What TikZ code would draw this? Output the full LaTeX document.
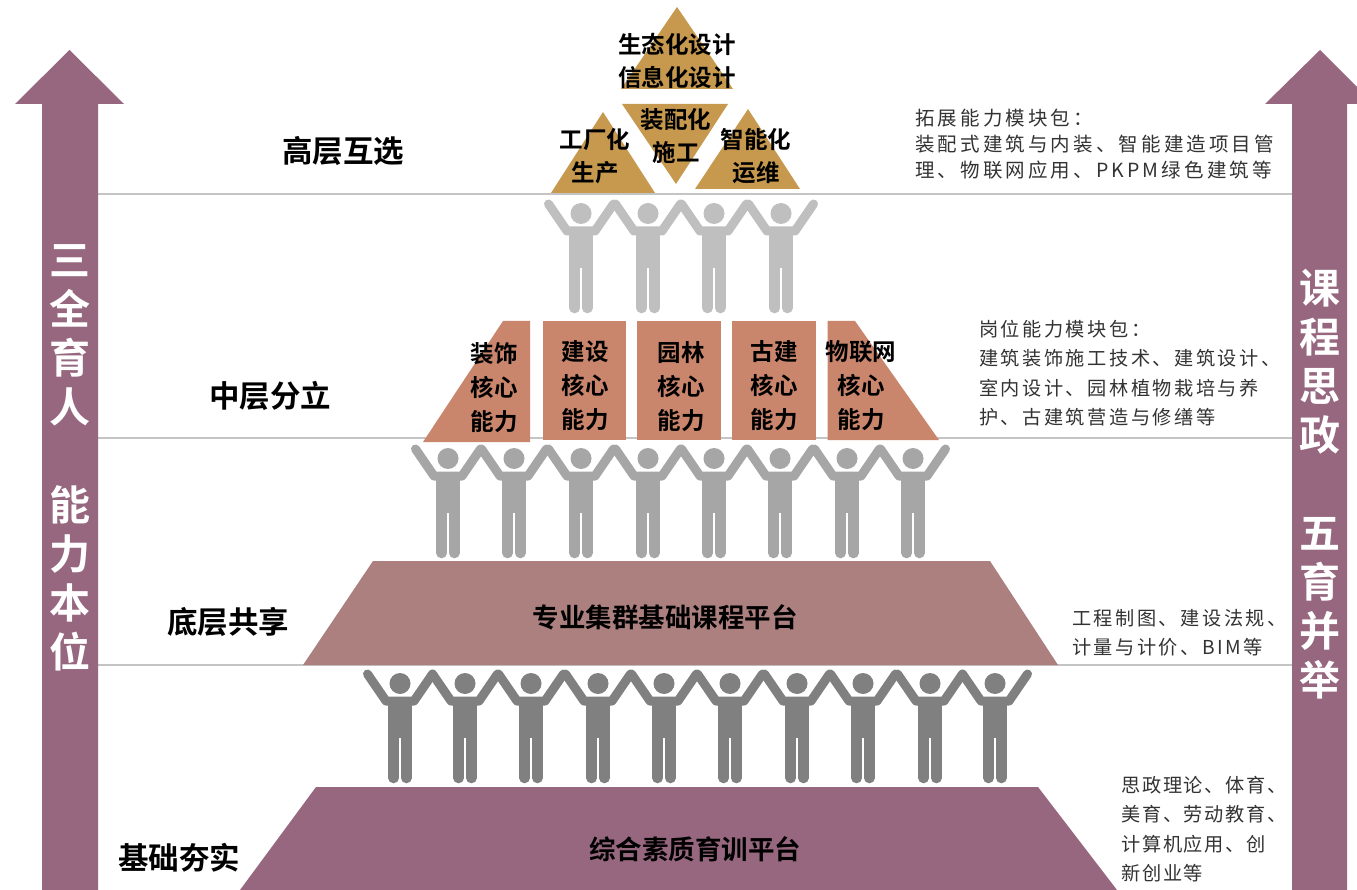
\documentclass[tikz,border=0pt]{standalone}
\usepackage{fontspec}
\setmainfont{Noto Sans CJK SC}
\newfontfamily\cjkb{Noto Sans CJK SC Bold}
\begin{document}
\begin{tikzpicture}[x=1pt,y=-1pt,
  arrowfill/.style={fill=plumc,draw=none},
  level/.style={draw=linec,line width=2pt},
  tri/.style={fill=goldc,draw=none},
  core/.style={fill=corec,draw=none},
  tierlabel/.style={font=\cjkb\fontsize{30.5}{34}\selectfont,text=black,inner sep=0pt},
  inlabel/.style={font=\cjkb\fontsize{23.5}{34}\selectfont,text=black,inner sep=0pt,align=center},
  platlabel/.style={font=\cjkb\fontsize{26.5}{30}\selectfont,text=black,inner sep=0pt,align=center},
  sidelabel/.style={text=textg,inner sep=0pt,align=left,anchor=north west},
  vlabel/.style={font=\cjkb\fontsize{41}{49}\selectfont,text=white,inner sep=0pt,align=center},
]
\definecolor{plumc}{HTML}{96677F}
\definecolor{linec}{HTML}{C4C4C4}
\definecolor{goldc}{HTML}{C6994F}
\definecolor{corec}{HTML}{C9866C}
\definecolor{platb}{HTML}{AD8080}
\definecolor{textg}{HTML}{333333}
\newcommand{\person}[3]{%
  \begin{scope}[shift={(#1,#2)},#3]
    \fill (0,13.5) circle (10.5);
    \draw[line width=9pt,line cap=round,line join=round] (-32.5,4) -- (-14,31) -- (14,31) -- (32.5,4);
    \fill (-11.6,28) rectangle (11.6,68);
    \draw[line width=10.6pt,line cap=round] (-6.3,65) -- (-6.3,108) (6.3,65) -- (6.3,108);
  \end{scope}}
\useasboundingbox (0,0) rectangle (1357,890);
\fill[white] (0,0) rectangle (1357,890);
% level lines
\draw[level] (98,194) -- (1292,194);
\draw[level] (98,437.5) -- (1292,437.5);
\draw[level] (98,665) -- (1292,665);
% people
\foreach \x in {581,648,714,781}{\person{\x}{200}{draw=black!25,fill=black!25}}
\foreach \x in {448,514,581,648,714,780,847,913}{\person{\x}{445}{draw=black!35,fill=black!35}}
\foreach \x in {400,465,531,598,664,730,797,863,930,995}{\person{\x}{670}{draw=black!50,fill=black!50}}
% arrows
\fill[arrowfill] (69.5,50) -- (124,104) -- (98,104) -- (98,890) -- (42,890) -- (42,104) -- (15,104) -- cycle;
\fill[arrowfill] (1320,50) -- (1374,104) -- (1347,104) -- (1347,890) -- (1292,890) -- (1292,104) -- (1265,104) -- cycle;
% triangles
\fill[tri] (677,7) -- (733,89) -- (621,89) -- cycle;
\fill[tri] (622,104) -- (728,104) -- (676,184) -- cycle;
\fill[tri] (603,112) -- (655,193) -- (551,193) -- cycle;
\fill[tri] (748,109) -- (800,189) -- (695,189) -- cycle;
% core blocks
\fill[core] (423,442) -- (503,321) -- (530,321) -- (530,442) -- cycle;
\fill[core] (543,321) rectangle (626,440);
\fill[core] (637,321) rectangle (721,440);
\fill[core] (732,321) rectangle (816,440);
\fill[core] (827.5,321) -- (855,321) -- (939,440) -- (827.5,440) -- cycle;
% platforms
\fill[platb] (303,665) -- (373,561) -- (990,561) -- (1058,665) -- cycle;
\fill[arrowfill] (240,890) -- (316,787) -- (1038,787) -- (1117,890) -- cycle;
% texts
\node[inlabel] (t1) at (677,60.5) {生态化设计\\[-1pt]信息化设计};
\node[inlabel] (t2) at (676,136) {装配化\\[-1pt]施工};
\node[inlabel] (t3) at (595,156.5) {工厂化\\[-1pt]生产};
\node[inlabel] (t4) at (756,156.5) {智能化\\[-1pt]运维};
\node[inlabel] (c1) at (494,388) {装饰\\核心\\能力};
\node[inlabel] (c2) at (585,386) {建设\\核心\\能力};
\node[inlabel] (c3) at (681,387) {园林\\核心\\能力};
\node[inlabel] (c4) at (774,386) {古建\\核心\\能力};
\node[inlabel] (c5) at (861,386) {物联网\\核心\\能力};
\node[platlabel] (p1) at (665,617) {专业集群基础课程平台};
\node[platlabel] (p2) at (695,849) {综合素质育训平台};
\node[tierlabel] (l1) at (343,151) {高层互选};
\node[tierlabel] (l2) at (270,396) {中层分立};
\node[tierlabel] (l3) at (228,622) {底层共享};
\node[tierlabel] (l4) at (179,858) {基础夯实};
\node[sidelabel,font=\addfontfeature{LetterSpace=16}\fontsize{19.5}{26}\selectfont] (s1) at (915,109) {拓展能力模块包：\\装配式建筑与内装、智能建造项目管\\理、物联网应用、PKPM绿色建筑等};
\node[sidelabel,font=\addfontfeature{LetterSpace=13}\fontsize{19.2}{29.3}\selectfont] (s2) at (979,320) {岗位能力模块包：\\建筑装饰施工技术、建筑设计、\\室内设计、园林植物栽培与养\\护、古建筑营造与修缮等};
\node[sidelabel,font=\addfontfeature{LetterSpace=13}\fontsize{19.2}{29}\selectfont] (s3) at (1072,609) {工程制图、建设法规、\\计量与计价、BIM等};
\node[sidelabel,font=\addfontfeature{LetterSpace=9}\fontsize{19.2}{29.5}\selectfont] (s4) at (1121,776) {思政理论、体育、\\美育、劳动教育、\\计算机应用、创\\新创业等};
\node[vlabel] (v1) at (70,458) {三\\全\\育\\人\\~\\能\\力\\本\\位};
\node[vlabel] (v2) at (1320,484) {课\\程\\思\\政\\~\\五\\育\\并\\举};
\end{tikzpicture}
\end{document}
